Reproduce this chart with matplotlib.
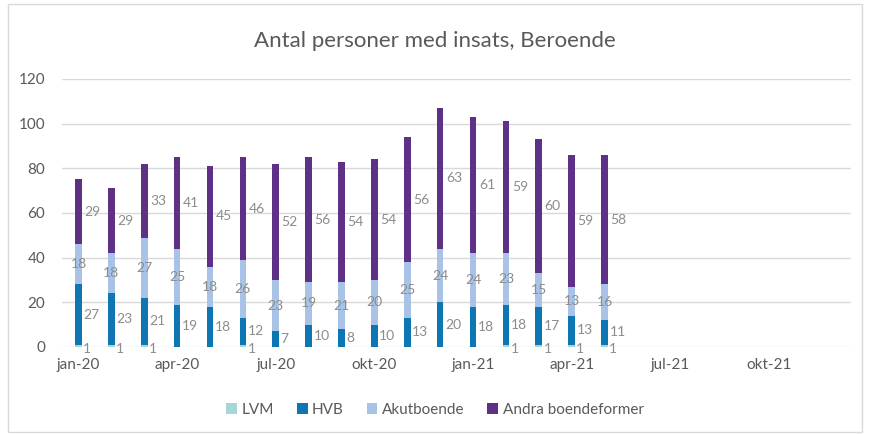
import matplotlib
matplotlib.use("Agg")
import matplotlib.pyplot as plt
import numpy as np
from matplotlib.patches import Rectangle

months = ["jan-20","feb-20","mar-20","apr-20","maj-20","jun-20","jul-20","aug-20","sep-20",
          "okt-20","nov-20","dec-20","jan-21","feb-21","mar-21","apr-21","maj-21","jun-21",
          "jul-21","aug-21","sep-21","okt-21","nov-21","dec-21"]
tick_labels = ["jan-20","apr-20","jul-20","okt-20","jan-21","apr-21","jul-21","okt-21"]
lvm = [1,1,1,0,0,1,0,0,0,0,0,0,0,1,1,1,1]
hvb = [27,23,21,19,18,12,7,10,8,10,13,20,18,18,17,13,11]
akut = [18,18,27,25,18,26,23,19,21,20,25,24,24,23,15,13,16]
andra = [29,29,33,41,45,46,52,56,54,54,56,63,61,59,60,59,58]

plt.rcParams['font.family'] = ['Lato', 'DejaVu Sans']
txt = '#595959'
lab = '#8c8c8c'
c_lvm, c_hvb, c_akut, c_andra = '#a8d5d5', '#0f76b4', '#a9c3e6', '#5e3186'

fig = plt.figure(figsize=(8.7, 4.34), dpi=100)
fig.patches.append(Rectangle((0.009, 0.005), 0.982, 0.985, transform=fig.transFigure,
                             fill=False, edgecolor='#d9d9d9', linewidth=1))
ax = fig.add_axes([0.0713, 0.2005, 0.907, 0.6175])

n = len(hvb)
x = np.arange(n)
w = 0.2
lvm_a = np.array(lvm); hvb_a = np.array(hvb); akut_a = np.array(akut); andra_a = np.array(andra)
b1 = lvm_a
b2 = b1 + hvb_a
b3 = b2 + akut_a
ax.bar(x, lvm_a, w, color=c_lvm, label='LVM', zorder=3)
ax.bar(x, hvb_a, w, bottom=b1, color=c_hvb, label='HVB', zorder=3)
ax.bar(x, akut_a, w, bottom=b2, color=c_akut, label='Akutboende', zorder=3)
ax.bar(x, andra_a, w, bottom=b3, color=c_andra, label='Andra boendeformer', zorder=3)

fs = 10
for i in range(n):
    if lvm[i]:
        ax.text(x[i] + 0.14, -0.8, str(lvm[i]), ha='left', va='center', color=lab, fontsize=fs,
                zorder=4, clip_on=False)
    ax.text(x[i] + 0.15, b1[i] + hvb[i] / 2, str(hvb[i]), ha='left', va='center', color=lab, fontsize=fs, zorder=4)
    ax.text(x[i], b2[i] + akut[i] / 2, str(akut[i]), ha='center', va='center', color=lab, fontsize=fs, zorder=4)
    ax.text(x[i] + 0.18, b3[i] + andra[i] / 2, str(andra[i]), ha='left', va='center', color=lab, fontsize=fs, zorder=4)

ax.set_xlim(-0.5, len(months) - 0.5)
ax.set_ylim(0, 120)
ax.set_yticks(np.arange(0, 121, 20))
ax.set_xticks([months.index(t) for t in tick_labels])
ax.set_xticklabels(tick_labels)
ax.tick_params(axis='both', length=0, colors=txt, labelsize=11)
ax.tick_params(axis='x', pad=8)
ax.tick_params(axis='y', pad=12)
ax.grid(axis='y', color='#d9d9d9', linewidth=1, zorder=0)
for s in ax.spines.values():
    s.set_visible(False)

fig.text(0.5, 0.905, 'Antal personer med insats, Beroende', ha='center', va='center',
         fontsize=16, color=txt)
fig.legend(loc='center', bbox_to_anchor=(0.5, 0.055), ncol=4, frameon=False,
           fontsize=11, labelcolor=txt, handlelength=0.7, handleheight=0.7,
           handletextpad=0.3, columnspacing=1.5)

fig.savefig('out.png', dpi=100)
